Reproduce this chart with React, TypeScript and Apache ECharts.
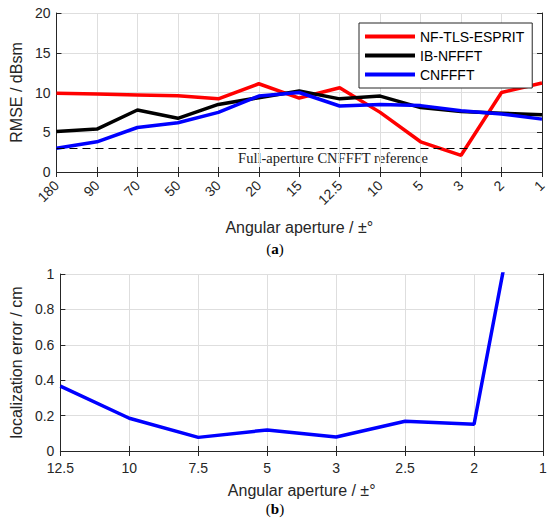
import React, { useEffect, useRef } from "react";
import * as echarts from "echarts";

const aperturesA = ["180", "90", "70", "50", "30", "20", "15", "12.5", "10", "5", "3", "2", "1"];
const nfTlsEsprit = [9.9, 9.8, 9.7, 9.6, 9.2, 11.1, 9.3, 10.6, 7.5, 3.8, 2.1, 10.0, 11.2];
const ibNffft = [5.1, 5.4, 7.8, 6.75, 8.5, 9.35, 10.2, 9.2, 9.55, 8.1, 7.6, 7.4, 7.2];
const cnffft = [3.0, 3.8, 5.6, 6.2, 7.5, 9.55, 10.0, 8.3, 8.5, 8.35, 7.7, 7.3, 6.65];
const referenceLevel = 3;
const referenceLabel = "Full-aperture CNFFFT reference";

const aperturesB = ["12.5", "10", "7.5", "5", "3", "2.5", "2", "1"];
const locError = [0.367, 0.185, 0.077, 0.119, 0.079, 0.168, 0.151, 2.2];

const SANS = '"Liberation Sans", Arial, Helvetica, sans-serif';
const SERIF = '"Liberation Serif", "Times New Roman", serif';
const AX = "#262626";
const GRID = "#dedede";

function App() {
  const ref = useRef<HTMLDivElement>(null);
  useEffect(() => {
    if (!ref.current) return;
    const chart = echarts.init(ref.current, undefined, { renderer: "svg" });
    const axisLine = { show: true, lineStyle: { color: AX, width: 1 } };
    const tickIn = { show: true, inside: true, length: 5, lineStyle: { color: AX } };
    const split = { show: true, lineStyle: { color: GRID, width: 1 } };
    const lbl = { color: AX, fontFamily: SANS, fontSize: 14 };
    const nameStyle = { color: AX, fontFamily: SANS, fontSize: 16 };

    const option: any = {
      animation: false,
      backgroundColor: "#ffffff",
      grid: [
        { left: 53, top: 13, right: 8, height: 159, containLabel: false },
        { left: 53, top: 274, right: 7, height: 177, containLabel: false },
      ],
      xAxis: [
        {
          type: "category",
          gridIndex: 0,
          data: aperturesA,
          boundaryGap: false,
          axisLine,
          axisTick: { ...tickIn, alignWithLabel: true },
          splitLine: split,
          axisLabel: { ...lbl, rotate: 45, margin: 11, interval: 0 },
          name: "Angular aperture / ±°",
          nameLocation: "middle",
          nameGap: 47,
          nameTextStyle: nameStyle,
        },
        {
          type: "category",
          gridIndex: 0,
          position: "top",
          data: aperturesA,
          boundaryGap: false,
          axisLine,
          axisTick: tickIn,
          axisLabel: { show: false },
          splitLine: { show: false },
        },
        {
          type: "category",
          gridIndex: 1,
          data: aperturesB,
          boundaryGap: false,
          axisLine,
          axisTick: tickIn,
          splitLine: split,
          axisLabel: { ...lbl, margin: 10, interval: 0 },
          name: "Angular aperture / ±°",
          nameLocation: "middle",
          nameGap: 31,
          nameTextStyle: nameStyle,
        },
        {
          type: "category",
          gridIndex: 1,
          position: "top",
          data: aperturesB,
          boundaryGap: false,
          axisLine,
          axisTick: tickIn,
          axisLabel: { show: false },
          splitLine: { show: false },
        },
      ],
      yAxis: [
        {
          type: "value",
          gridIndex: 0,
          min: 0,
          max: 20,
          interval: 5,
          axisLine,
          axisTick: tickIn,
          splitLine: split,
          axisLabel: { ...lbl, margin: 6 },
          name: "RMSE / dBsm",
          nameLocation: "middle",
          nameGap: 28,
          nameTextStyle: nameStyle,
        },
        {
          type: "value",
          gridIndex: 0,
          position: "right",
          min: 0,
          max: 20,
          interval: 5,
          axisLine,
          axisTick: tickIn,
          splitLine: { show: false },
          axisLabel: { show: false },
        },
        {
          type: "value",
          gridIndex: 1,
          min: 0,
          max: 1,
          interval: 0.2,
          axisLine,
          axisTick: tickIn,
          splitLine: split,
          axisLabel: { ...lbl, margin: 6 },
          name: "localization error / cm",
          nameLocation: "middle",
          nameGap: 31,
          nameTextStyle: nameStyle,
        },
        {
          type: "value",
          gridIndex: 1,
          position: "right",
          min: 0,
          max: 1,
          interval: 0.2,
          axisLine,
          axisTick: tickIn,
          splitLine: { show: false },
          axisLabel: { show: false },
        },
      ],
      legend: {
        show: true,
        orient: "vertical",
        left: 359,
        top: 23,
        padding: [6, 8, 6, 6],
        itemGap: 4,
        itemWidth: 50,
        itemHeight: 4,
        icon: "rect",
        backgroundColor: "#ffffff",
        borderColor: AX,
        borderWidth: 1,
        borderRadius: 0,
        textStyle: { color: "#000000", fontFamily: SANS, fontSize: 14, lineHeight: 15 },
        data: ["NF-TLS-ESPRIT", "IB-NFFFT", "CNFFFT"],
      },
      series: [
        {
          name: "NF-TLS-ESPRIT",
          type: "line",
          xAxisIndex: 0,
          yAxisIndex: 0,
          data: nfTlsEsprit,
          symbol: "none",
          lineStyle: { color: "#ff0000", width: 3.5 },
          itemStyle: { color: "#ff0000" },
          markLine: {
            silent: true,
            symbol: "none",
            label: { show: false },
            lineStyle: { color: "#000000", width: 1, type: [8, 5] },
            data: [{ yAxis: referenceLevel }],
          },
        },
        {
          name: "IB-NFFFT",
          type: "line",
          xAxisIndex: 0,
          yAxisIndex: 0,
          data: ibNffft,
          symbol: "none",
          lineStyle: { color: "#000000", width: 3.5 },
          itemStyle: { color: "#000000" },
        },
        {
          name: "CNFFFT",
          type: "line",
          xAxisIndex: 0,
          yAxisIndex: 0,
          data: cnffft,
          symbol: "none",
          lineStyle: { color: "#0000ff", width: 3.5 },
          itemStyle: { color: "#0000ff" },
        },
        {
          name: "localization",
          type: "line",
          xAxisIndex: 2,
          yAxisIndex: 2,
          data: locError,
          symbol: "none",
          clip: true,
          lineStyle: { color: "#0000ff", width: 3.5 },
          itemStyle: { color: "#0000ff" },
        },
      ],
      graphic: [
        {
          type: "text",
          x: 333,
          y: 158,
          style: {
            text: referenceLabel,
            font: `14.5px ${SERIF}`,
            fill: "#1a1a1a",
            textAlign: "center",
            textVerticalAlign: "middle",
            align: "center",
            verticalAlign: "middle",
          },
        },
        {
          type: "text",
          x: 275,
          y: 249,
          style: {
            text: "{n|(}{b|a}{n|)}",
            rich: {
              n: { fontFamily: SERIF, fontSize: 15, fill: "#000" },
              b: { fontFamily: SERIF, fontSize: 15, fontWeight: "bold", fill: "#000" },
            },
            textAlign: "center",
            textVerticalAlign: "middle",
            align: "center",
            verticalAlign: "middle",
          },
        },
        {
          type: "text",
          x: 275,
          y: 509,
          style: {
            text: "{n|(}{b|b}{n|)}",
            rich: {
              n: { fontFamily: SERIF, fontSize: 15, fill: "#000" },
              b: { fontFamily: SERIF, fontSize: 15, fontWeight: "bold", fill: "#000" },
            },
            textAlign: "center",
            textVerticalAlign: "middle",
            align: "center",
            verticalAlign: "middle",
          },
        },
      ],
    };
    chart.setOption(option);
    return () => chart.dispose();
  }, []);
  return (
    <div
      ref={ref}
      style={{ position: "absolute", left: 0, top: 0, width: 550, height: 524, background: "#fff" }}
    />
  );
}

export default App;
